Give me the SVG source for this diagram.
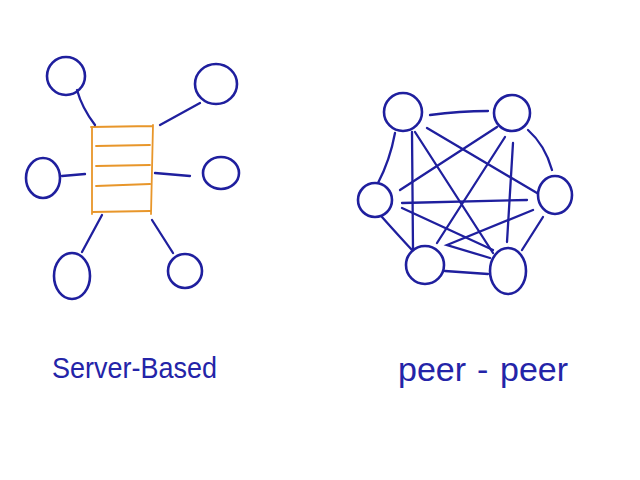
<svg xmlns="http://www.w3.org/2000/svg" width="640" height="480" viewBox="0 0 640 480">
<style>
.n{fill:none;stroke:#1f1f9e;stroke-width:2.6}
.e{fill:none;stroke:#1f1f9e;stroke-width:2.3;stroke-linecap:round}
.s{fill:none;stroke:#e8962a;stroke-width:1.8;stroke-linecap:round}
.t{font-family:"Liberation Sans",Arial,sans-serif;fill:#2424a8;font-size:30px}
</style>
<rect width="640" height="480" fill="#ffffff"/>
<g id="server">
<path class="s" d="M92 127 L92 214 M153 125 L151 214 M91 127 L153 126 M96 146 L150 145 M96 166 L150 165 M96 186 L150 184 M92 212 L150 211"/>
</g>
<g id="client-tl"><ellipse class="n" cx="66" cy="76" rx="19" ry="19"/></g>
<g id="client-tr"><ellipse class="n" cx="216" cy="84" rx="21" ry="20"/></g>
<g id="client-ml"><ellipse class="n" cx="43" cy="178" rx="17" ry="20"/></g>
<g id="client-mr"><ellipse class="n" cx="221" cy="173" rx="18" ry="16"/></g>
<g id="client-bl"><ellipse class="n" cx="72" cy="276" rx="18" ry="23"/></g>
<g id="client-br"><ellipse class="n" cx="185" cy="271" rx="17" ry="17"/></g>
<g id="peer-tl"><ellipse class="n" cx="403" cy="112" rx="19" ry="19"/></g>
<g id="peer-tr"><ellipse class="n" cx="512" cy="113" rx="18" ry="18"/></g>
<g id="peer-l"><ellipse class="n" cx="375" cy="200" rx="17" ry="17"/></g>
<g id="peer-r"><ellipse class="n" cx="555" cy="195" rx="17" ry="19"/></g>
<g id="peer-bl"><ellipse class="n" cx="425" cy="265" rx="19" ry="19"/></g>
<g id="peer-br"><ellipse class="n" cx="508" cy="271" rx="18" ry="23"/></g>
<g id="connectors">
<path class="e" d="M77 90 Q82 108 95 125"/>
<path class="e" d="M160 125 L200 103"/>
<path class="e" d="M62 176 L85 174"/>
<path class="e" d="M155 173 L190 176"/>
<path class="e" d="M102 215 L82 252"/>
<path class="e" d="M152 220 L173 253"/>
<path class="e" d="M430 115 Q460 111 488 111"/>
<path class="e" d="M395 133 Q390 160 378 183"/>
<path class="e" d="M412 132 L413 250"/>
<path class="e" d="M415 132 L493 253"/>
<path class="e" d="M427 128 L537 193"/>
<path class="e" d="M497 127 L400 190"/>
<path class="e" d="M505 137 L437 243"/>
<path class="e" d="M513 143 L507 242"/>
<path class="e" d="M528 130 Q545 145 552 170"/>
<path class="e" d="M402 203 L527 200"/>
<path class="e" d="M402 208 L493 250"/>
<path class="e" d="M382 217 Q398 235 412 250"/>
<path class="e" d="M533 210 L447 245 L490 258"/>
<path class="e" d="M543 217 L522 250"/>
<path class="e" d="M445 271 L488 274"/>
</g>
<text class="t" x="52" y="378" textLength="165" lengthAdjust="spacingAndGlyphs">Server-Based</text>
<text class="t" y="381" style="font-size:34px"><tspan x="398">peer</tspan><tspan x="477">-</tspan><tspan x="500">peer</tspan></text>
</svg>
